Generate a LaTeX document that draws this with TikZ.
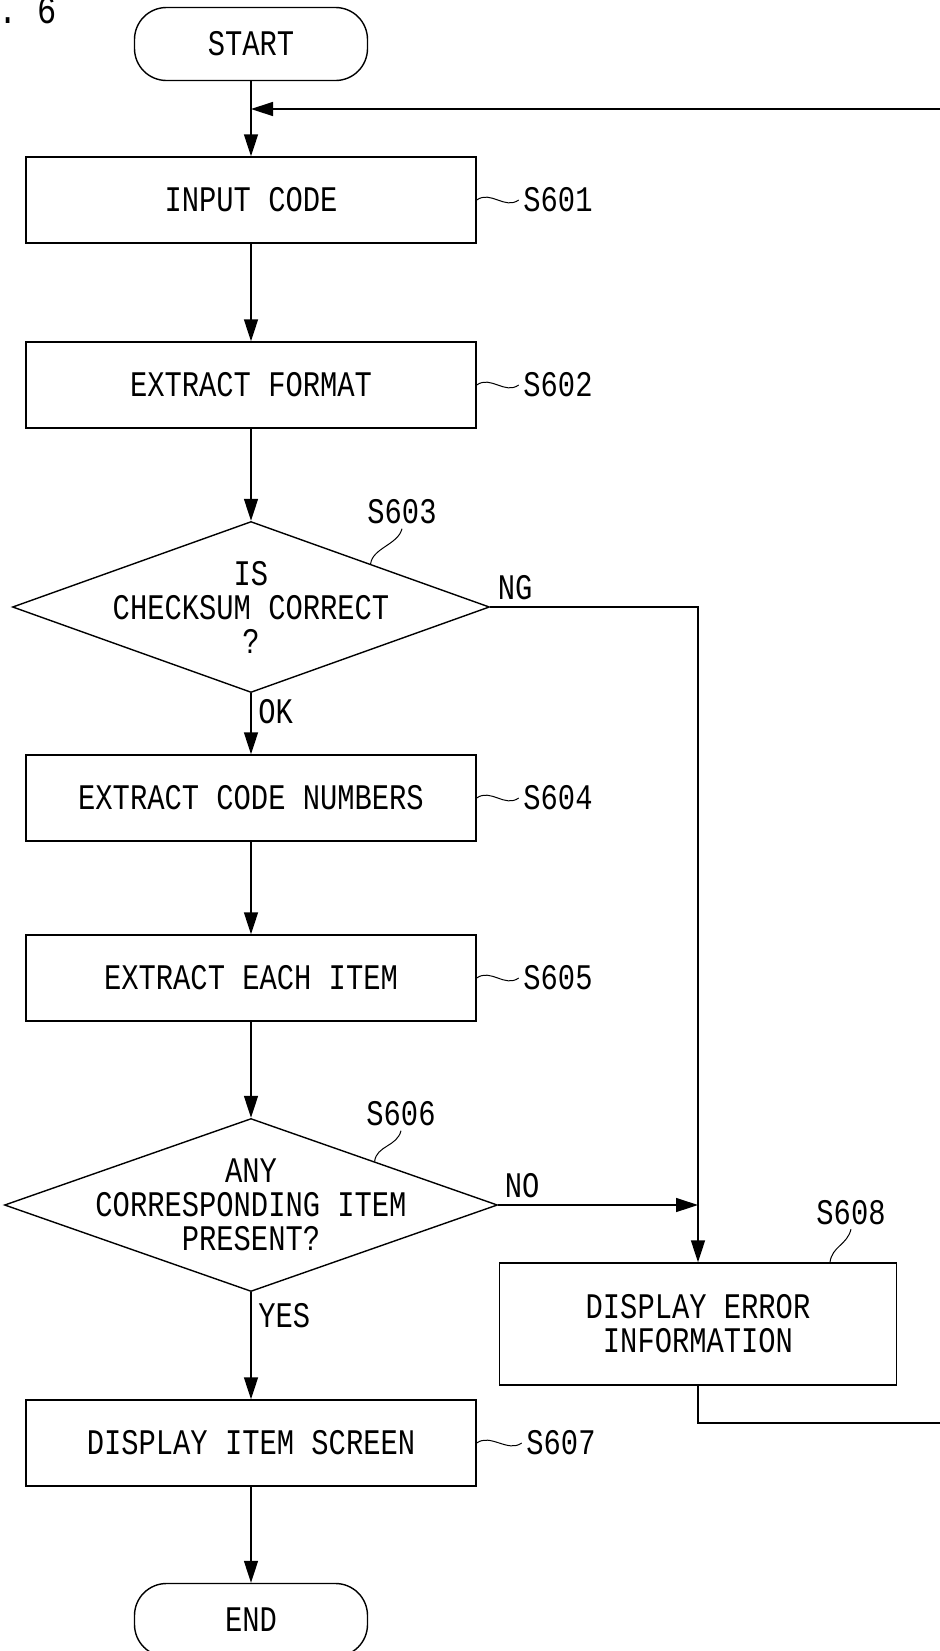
\documentclass[tikz,border=0pt]{standalone}
\usepackage{fontspec}
\setmainfont[FakeStretch=0.8]{Liberation Mono}
\usetikzlibrary{shapes.geometric,arrows.meta,positioning,calc}

\begin{document}
\begin{tikzpicture}[x=0.5pt,y=-0.5pt,line width=0.7pt,
  font=\fontsize{18pt}{17pt}\selectfont,
  >={Triangle[length=11pt,width=7pt]},
  proc/.style={rectangle,draw,minimum width=225pt,minimum height=43pt,inner sep=0pt,align=center},
  term/.style={rectangle,draw,rounded corners=16pt,minimum width=116.5pt,minimum height=36.5pt},
  test/.style={diamond,draw,inner sep=0pt},
  steplabel/.style={inner sep=2pt},
  squig/.style={line width=0.5pt}]

  \useasboundingbox (0,0) rectangle (939,1651);

  \node[inner sep=0pt,anchor=base east,font=\fontsize{20pt}{20pt}\selectfont] (fig) at (57,23) {FIG. 6};

  % main column
  \node[term] (start) at (251,44) {START};
  \node[proc] (input) [below of=start,node distance=78pt] {INPUT CODE};
  \node[proc] (format) [below of=input,node distance=92.5pt] {EXTRACT FORMAT};
  \node[test,minimum width=238.5pt,minimum height=85.5pt] (chk) [below of=format,node distance=111pt] {};
  \node[align=center] (chkq) at (chk) {IS\\CHECKSUM CORRECT\\?};
  \node[proc] (nums) [below of=chk,node distance=95.5pt] {EXTRACT CODE NUMBERS};
  \node[proc] (each) [below of=nums,node distance=90pt] {EXTRACT EACH ITEM};
  \node[test,minimum width=246.5pt,minimum height=86.5pt] (item) [below of=each,node distance=113.5pt] {};
  \node[align=center] (itemq) at (item) {ANY\\CORRESPONDING ITEM\\PRESENT?};
  \node[proc] (screen) [below of=item,node distance=119pt] {DISPLAY ITEM SCREEN};
  \node[term] (end) [below of=screen,node distance=88.5pt] {END};

  % error branch
  \node[proc,minimum width=198.5pt,minimum height=61pt] (err) at (698,1324) {DISPLAY ERROR\\INFORMATION};

  % step numbers
  \node[steplabel] (s601) [right of=input,node distance=153.5pt] {S601};
  \node[steplabel] (s602) [right of=format,node distance=153.5pt] {S602};
  \node[steplabel] (s604) [right of=nums,node distance=153.5pt] {S604};
  \node[steplabel] (s605) [right of=each,node distance=153.5pt] {S605};
  \node[steplabel] (s607) [right of=screen,node distance=155pt] {S607};
  \node[steplabel] (s603) at ([xshift=75.5pt,yshift=4.5pt]chk.north) {S603};
  \node[steplabel] (s606) at ([xshift=75pt,yshift=2pt]item.north) {S606};
  \node[steplabel] (s608) at ([xshift=76.5pt,yshift=25pt]err.north) {S608};

  \foreach \b/\s in {input/s601,format/s602,nums/s604,each/s605,screen/s607}
    \draw[squig] (\b.east) .. controls +(14,-10) and +(-14,10) .. (\s.west);
  \draw[squig] ($(chk.north)!0.5!(chk.east)$) .. controls +(2,-16) and +(-4,16) .. (s603.south);
  \draw[squig] ($(item.north)!0.5!(item.east)$) .. controls +(2,-16) and +(-4,16) .. (s606.south);
  \draw[squig] ([xshift=66pt]err.north) .. controls +(2,-16) and +(-4,16) .. (s608.south);

  \coordinate (back) at (251,109);
  \coordinate (rim) at (960,1423);
  \coordinate (join) at (item.east -| err.north);

  % flow
  \draw[->] (start) -- (input);
  \draw[->] (input) -- (format);
  \draw[->] (format) -- (chk);
  \draw[->] (chk) -- node[pos=0.3,right] {OK} (nums);
  \draw[->] (nums) -- (each);
  \draw[->] (each) -- (item);
  \draw[->] (item) -- node[pos=0.22,right] {YES} (screen);
  \draw[->] (screen) -- (end);
  \draw[->] (chk.east) -| node[pos=0.06,above] {NG} (err.north);
  \draw[->] (item.east) -- node[pos=0.12,above] {NO} (join);
  \draw[->] (err.south) |- (rim) |- (back);
\end{tikzpicture}
\end{document}
